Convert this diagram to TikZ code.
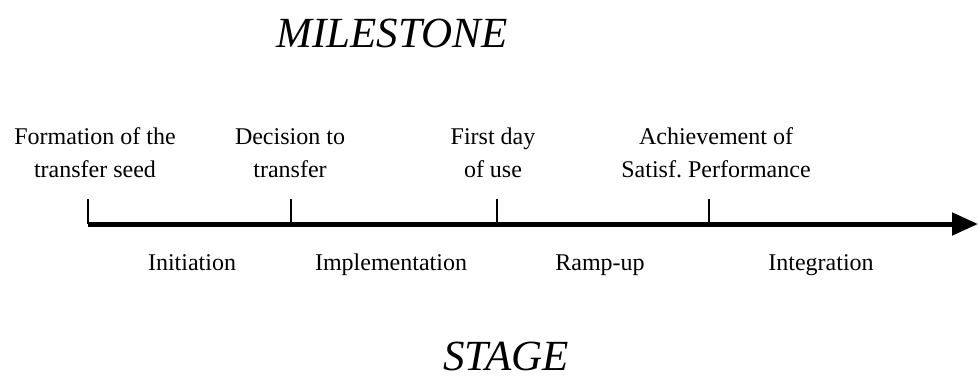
\documentclass[tikz,border=0pt]{standalone}
\usepackage{fontspec}
\setmainfont{Liberation Serif}
\usetikzlibrary{arrows.meta}
\begin{document}
\begin{tikzpicture}[x=1pt,y=-1pt,
  lbl/.style={font=\fontsize{24}{33}\selectfont, inner sep=0pt, align=center, anchor=base},
  ttl/.style={font=\fontsize{43}{50}\selectfont\itshape, inner sep=0pt, anchor=base},
  axis/.style={line width=5pt, -{Triangle[length=26pt,width=22pt]}},
  tick/.style={line width=1.6pt}]
\useasboundingbox (0,0) rectangle (978,376);
\node[ttl] (ms) at (392,47) {MILESTONE};
\node[ttl] (st) at (506,370) {STAGE};
\coordinate (a0) at (88,224);
\coordinate (aend) at (978,224);
\coordinate (t1) at (88,199);
\coordinate (t2) at (291,199);
\coordinate (t3) at (497,199);
\coordinate (t4) at (709,199);
\coordinate (b1) at (88,224);
\coordinate (b2) at (291,224);
\coordinate (b3) at (497,224);
\coordinate (b4) at (709,224);
\draw[axis] (a0) -- (aend);
\foreach \i in {1,...,4} \draw[tick] (t\i) -- (b\i);
\node[lbl] (m1) at (95,177) {Formation of the\\transfer seed};
\node[lbl] (m2) at (290,177) {Decision to\\transfer};
\node[lbl] (m3) at (493,177) {First day\\of use};
\node[lbl] (m4) at (716,177) {Achievement of\\Satisf.\ Performance};
\node[lbl] (s1) at (192,270) {Initiation};
\node[lbl] (s2) at (391,270) {Implementation};
\node[lbl] (s3) at (600,270) {Ramp-up};
\node[lbl] (s4) at (821,270) {Integration};
\end{tikzpicture}
\end{document}
